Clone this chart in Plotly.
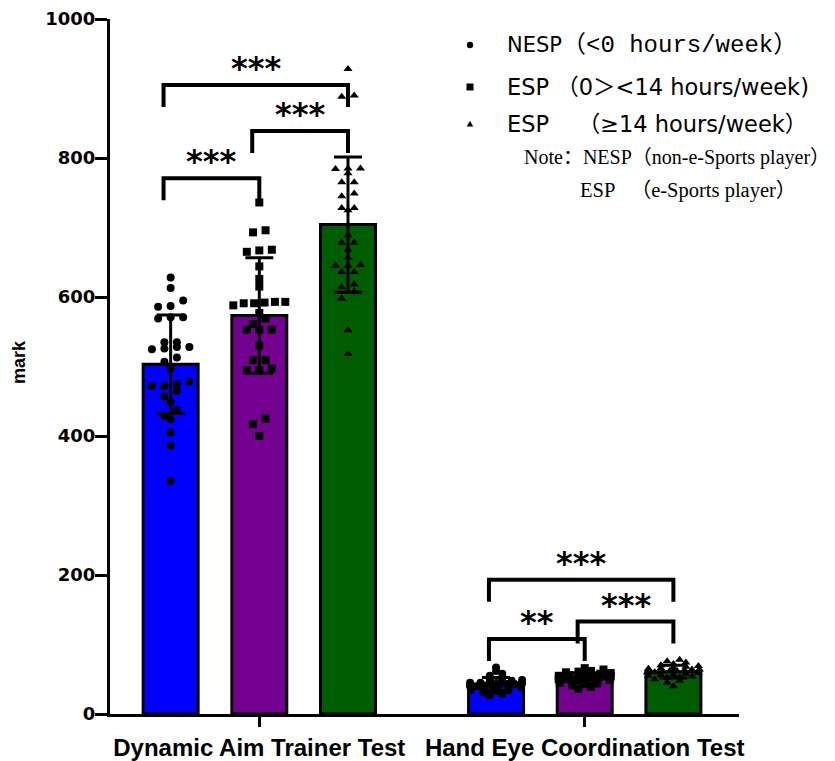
import numpy as np
import plotly.graph_objects as go

# ---------------- data ----------------
tests = ["Dynamic Aim Trainer Test", "Hand Eye Coordination Test"]
groups = ["NESP", "ESP 0-14", "ESP >=14"]

dat_nesp = [628, 613, 595, 587, 586, 571, 571, 569, 535, 526, 528, 528, 535, 525, 513,
            507, 497, 475, 478, 472, 472, 465, 457, 449, 437, 429, 424, 405, 386, 335]
dat_esp1 = [736, 696, 693, 667, 665, 668, 644, 626, 615, 593, 592, 588, 591, 593, 591,
            577, 569, 553, 561, 553, 553, 530, 509, 509, 497, 495, 495, 425, 417, 400]
dat_esp2 = [928, 890, 888, 785, 778, 785, 784, 765, 765, 749, 745, 728, 728, 725, 689,
            678, 678, 668, 656, 645, 636, 646, 636, 645, 618, 614, 608, 598, 552, 518]

hec_nesp = [67, 62, 58, 55, 52, 50, 49, 48, 47, 46, 45, 45, 44, 43, 43,
            42, 41, 41, 40, 40, 39, 38, 37, 36, 35, 34, 33, 31, 29, 27]
hec_esp1 = [66, 64, 62, 61, 60, 59, 58, 57, 56, 56, 55, 54, 54, 53, 53,
            52, 52, 51, 50, 50, 49, 48, 47, 46, 45, 44, 43, 41, 39, 36]
hec_esp2 = [78, 76, 74, 72, 70, 69, 68, 67, 66, 65, 64, 64, 63, 62, 62,
            61, 60, 60, 59, 58, 57, 56, 55, 54, 53, 52, 50, 48, 45, 40]

series = [[dat_nesp, dat_esp1, dat_esp2], [hec_nesp, hec_esp1, hec_esp2]]

# significance: (test index, group i, group j, label, bracket height)
sig_pairs = [
    (0, 0, 1, "***", 771), (0, 1, 2, "***", 839), (0, 0, 2, "***", 905),
    (1, 0, 1, "**", 108), (1, 1, 2, "***", 133), (1, 0, 2, "***", 193),
]

y_ticks = [0, 200, 400, 600, 800, 1000]

# ---------------- style / layout ----------------
# page body has an 8px default margin, so the figure is drawn 8px right/down
OFF = 8
W, H = 835 - OFF, 761 - OFF
ML, MR, MT, MB = 110 - OFF, 96, 19 - OFF, 47
PW, PH = W - ML - MR, H - MT - MB
XR = [-0.684, 6.41]
GROUP_OFFSET = 3.67
BAR_W = 0.62
colors = ["#0000FF", "#73008F", "#005C00"]
symbols = ["circle", "square", "triangle-up"]
msizes = [8, 8, 8]
X_PER_PX = (XR[1] - XR[0]) / PW
Y_PER_PX = 1000 / PH


def pp(px, py):
    """page pixel -> paper coords"""
    return (px - 110) / PW, (714 - py) / PH


def swarm(vals, center, bin_size, step, max_half):
    vals = np.asarray(vals, float)
    xs = np.zeros(len(vals))
    keys = np.floor(vals / bin_size)
    for k in np.unique(keys):
        idx = np.where(keys == k)[0]
        idx = idx[np.argsort(vals[idx])]
        n = len(idx)
        s = step if n == 1 else min(step, 2 * max_half / (n - 1))
        for q in range(n):
            xs[idx[q]] = center + (q - (n - 1) / 2) * s
    return xs


fig = go.Figure()
centers = {}
for t in range(2):
    for g in range(3):
        xc = t * GROUP_OFFSET + g
        centers[(t, g)] = xc
        vals = np.array(series[t][g], float)
        m, sd = vals.mean(), vals.std(ddof=1)
        fig.add_trace(go.Bar(
            x=[xc], y=[m], width=BAR_W,
            marker=dict(color=colors[g], line=dict(color="black", width=3)),
            error_y=dict(type="data", array=[sd], color="black", thickness=3, width=14),
            showlegend=False, hoverinfo="skip"))

for t in range(2):
    bsz = 13 if t == 0 else 5
    for g in range(3):
        xc = centers[(t, g)]
        xs = swarm(series[t][g], xc, bsz, 12.5 * X_PER_PX, 26 * X_PER_PX)
        fig.add_trace(go.Scatter(
            x=xs, y=series[t][g], mode="markers",
            marker=dict(symbol=symbols[g], size=msizes[g], color="black", line=dict(width=0)),
            showlegend=False, hoverinfo="skip"))

leg_len = 22 * Y_PER_PX
annotations = []
for (t, i, j, lab, h) in sig_pairs:
    x0 = centers[(t, i)] - 0.08
    x1 = centers[(t, j)]
    fig.add_trace(go.Scatter(
        x=[x0, x0, x1, x1], y=[h - leg_len, h, h, h - leg_len], mode="lines",
        line=dict(color="black", width=4), showlegend=False, hoverinfo="skip"))
    annotations.append(dict(
        x=(x0 + x1) / 2, y=h, xref="x", yref="y", text=lab, showarrow=False,
        yanchor="bottom", yshift=-4,
        font=dict(family="DejaVu Sans", size=32, color="black", weight="bold")))

# axis title
ax, ay = pp(19, 362)
annotations.append(dict(x=ax, y=ay, xref="paper", yref="paper", text="mark", textangle=-90,
                        showarrow=False, xanchor="center", yanchor="middle",
                        font=dict(family="Liberation Sans", size=18, color="black", weight="bold")))

# legend text
SANS = "DejaVu Sans, Noto Sans CJK SC"
SERIF = "Liberation Serif, Noto Sans CJK SC"
MONO = "Liberation Mono, Noto Sans CJK SC"
NB = "\u00a0"
leg_items = [
    (505, 45, "NESP" + f'<span style="font-family:{MONO};font-size:24px">（&lt;0 hours/week）</span>', SANS, 21),
    (505, 87, f"ESP{NB}（0＞&lt;14 hours/week)", SANS, 22.5),
    (505, 124, f"ESP{NB}{NB}{NB}{NB}（≥14 hours/week）", SANS, 22.5),
    (522, 158, "Note：NESP（non-e-Sports player）", SERIF, 20),
    (578, 191, f"ESP{NB}{NB}{NB}（e-Sports player）", SERIF, 20.5),
]
for px, py, txt, fam, fs in leg_items:
    x, y = pp(px, py)
    annotations.append(dict(x=x, y=y, xref="paper", yref="paper", text=txt, showarrow=False,
                            xanchor="left", yanchor="middle",
                            font=dict(family=fam, size=fs, color="black")))

shapes = []
for (px, py, kind, s) in [(470, 45, "circle", 3.2), (470, 87, "square", 3.5), (470, 124, "tri", 3.2)]:
    x, y = pp(px, py)
    base = dict(xref="paper", yref="paper", xsizemode="pixel", ysizemode="pixel",
                xanchor=x, yanchor=y, fillcolor="black", line=dict(width=0))
    if kind == "circle":
        shapes.append(dict(type="circle", x0=-s, x1=s, y0=-s, y1=s, **base))
    elif kind == "square":
        shapes.append(dict(type="rect", x0=-s, x1=s, y0=-s, y1=s, **base))
    else:
        shapes.append(dict(type="path", path=f"M{-s},{-s*0.8} L{s},{-s*0.8} L0,{s*1.0} Z", **base))

fig.update_layout(
    width=W, height=H, margin=dict(l=ML, r=MR, t=MT, b=MB, autoexpand=False),
    paper_bgcolor="white", plot_bgcolor="white",
    annotations=annotations, shapes=shapes,
    xaxis=dict(range=XR, showgrid=False, zeroline=False, showline=True, linecolor="black",
               linewidth=3, ticks="outside", ticklen=10, tickwidth=3, tickcolor="black",
               tickvals=[centers[(0, 1)], centers[(1, 1)]], ticktext=tests, automargin=False,
               tickfont=dict(family="Liberation Sans", size=24, color="black", weight="bold")),
    yaxis=dict(range=[0, 1000], showgrid=False, zeroline=False, showline=True, linecolor="black",
               linewidth=3, ticks="outside", ticklen=12, tickwidth=3, tickcolor="black",
               tickvals=y_ticks, automargin=False, ticklabelstandoff=-4,
               tickfont=dict(family="DejaVu Sans", size=18, color="black", weight="bold")),
)
fig.write_html("out.html")
